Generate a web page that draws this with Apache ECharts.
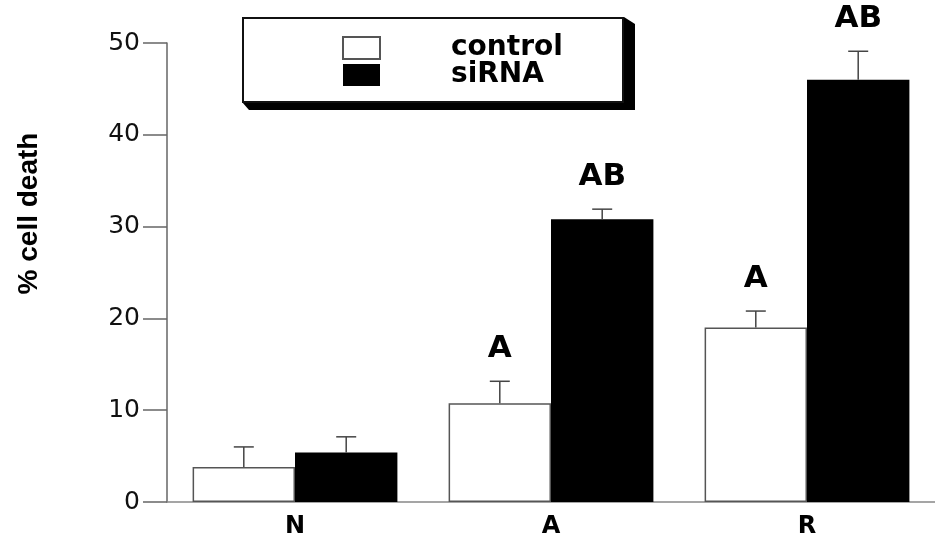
<!DOCTYPE html>
<html>
<head>
<meta charset="utf-8">
<script src="https://cdn.jsdelivr.net/npm/echarts@6/dist/echarts.min.js"></script>
<style>
html,body{margin:0;padding:0;background:#fff;}
#chart{width:935px;height:544px;}
</style>
</head>
<body>
<div id="chart"></div>
<script>
const categories = ['N', 'A', 'R'];
const seriesNames = ['control', 'siRNA'];
const controlValues = [3.8, 10.75, 19.0];
const controlErrors = [2.2, 2.4, 1.8];
const sirnaValues = [5.4, 30.8, 46.0];
const sirnaErrors = [1.7, 1.1, 3.1];
const controlLetters = ['', 'A', 'A'];
const sirnaLetters = ['', 'AB', 'AB'];
const yMin = 0, yMax = 50, yInterval = 10;
const yTitle = '% cell death';

const chart = echarts.init(document.getElementById('chart'), null, {renderer: 'canvas'});

function errSeries(name, values, errors, letters, side) {
  return {
    type: 'custom',
    name: name + '_err',
    z: 5,
    silent: true,
    data: values.map((v, i) => [i, v, errors[i]]),
    encode: {x: 0, y: 1},
    renderItem: function (params, api) {
      const i = api.value(0), v = api.value(1), e = api.value(2);
      const band = api.size([1, 0])[0];
      const off = side * band * 0.8 / 4;
      const base = api.coord([i, v]);
      const top = api.coord([i, v + e]);
      const x = base[0] + off;
      const stroke = {stroke: '#444', lineWidth: 1.5};
      const children = [
        {type: 'line', shape: {x1: x, y1: base[1], x2: x, y2: top[1]}, style: stroke},
        {type: 'line', shape: {x1: x - 10, y1: top[1], x2: x + 10, y2: top[1]}, style: stroke}
      ];
      const letter = letters[params.dataIndex];
      if (letter) {
        children.push({
          type: 'text',
          style: {
            x: x, y: top[1] - 32, text: letter,
            font: 'bold 31px "DejaVu Sans"', fill: '#000',
            align: 'center', verticalAlign: 'middle'
          }
        });
      }
      return {type: 'group', children: children};
    }
  };
}

const option = {
  backgroundColor: '#fff',
  animation: false,
  grid: {left: 167, top: 43, bottom: 42, width: 777},
  graphic: [
    {
      type: 'polygon', z: 1, silent: true,
      shape: {points: [[624, 17], [635, 24], [635, 110], [249, 110], [242, 102]]},
      style: {fill: '#000'}
    },
    {
      type: 'rect', z: 2, silent: true,
      shape: {x: 243, y: 18, width: 380, height: 84},
      style: {fill: '#fff', stroke: '#111', lineWidth: 2}
    }
  ],
  legend: {
    data: seriesNames,
    orient: 'vertical',
    left: 242, top: 17,
    padding: [17, 60, 17, 100],
    itemWidth: 37, itemHeight: 22, itemGap: -1,
    icon: 'rect',
    z: 10,
    textStyle: {
      fontFamily: 'DejaVu Sans', fontWeight: 'bold', fontSize: 28,
      color: '#000', padding: [0, 0, 0, 66]
    }
  },
  xAxis: {
    type: 'category',
    data: categories,
    axisLine: {lineStyle: {color: '#888', width: 1.5}},
    axisTick: {show: false},
    axisLabel: {fontFamily: 'DejaVu Sans', fontWeight: 'bold', fontSize: 24, color: '#000', margin: 13}
  },
  yAxis: {
    type: 'value',
    min: yMin, max: yMax, interval: yInterval,
    name: yTitle,
    nameLocation: 'middle',
    nameRotate: 90,
    nameGap: 124,
    nameTextStyle: {
      fontFamily: '"Liberation Sans"', fontWeight: 'bold', fontSize: 28, color: '#000',
      padding: [0, 0, 0, 118]
    },
    splitLine: {show: false},
    axisLine: {show: true, lineStyle: {color: '#666', width: 1.5}},
    axisTick: {show: true, length: 24, lineStyle: {color: '#666', width: 1.5}},
    axisLabel: {fontFamily: 'DejaVu Sans', fontSize: 25, color: '#111', margin: 27}
  },
  series: [
    {
      name: seriesNames[0], type: 'bar', data: controlValues,
      barGap: '0%', barCategoryGap: '20%',
      itemStyle: {color: '#fff', borderColor: '#555', borderWidth: 1.5}
    },
    {
      name: seriesNames[1], type: 'bar', data: sirnaValues,
      barGap: '0%', barCategoryGap: '20%',
      itemStyle: {color: '#000', borderColor: '#000', borderWidth: 0}
    },
    errSeries('control', controlValues, controlErrors, controlLetters, -1),
    errSeries('siRNA', sirnaValues, sirnaErrors, sirnaLetters, 1)
  ]
};
chart.setOption(option);
</script>
</body>
</html>
